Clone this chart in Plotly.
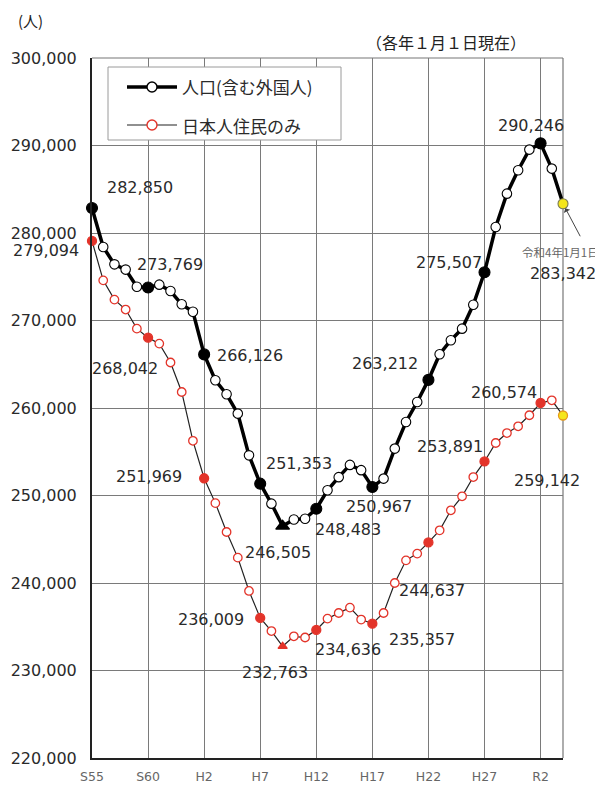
import plotly.graph_objects as go

# ---------------- data ----------------
years = list(range(1980, 2023))
total_pop = [282850, 278400, 276420, 275820, 273850, 273769, 274100, 273370, 271850, 271000,
             266126, 263170, 261570, 259360, 254590, 251353, 249070, 246505, 247250, 247350,
             248483, 250600, 252100, 253500, 252900, 250967, 251930, 255360, 258400, 260690,
             263212, 266140, 267740, 269070, 271800, 275507, 280690, 284500, 287170, 289530,
             290246, 287360, 283342]
japanese_pop = [279094, 274590, 272390, 271250, 269070, 268042, 267360, 265200, 261830, 256250,
                251969, 249130, 245830, 242900, 239090, 236009, 234510, 232763, 233910, 233770,
                234636, 235930, 236570, 237190, 235820, 235357, 236570, 240000, 242590, 243360,
                244637, 246020, 248310, 249910, 252110, 253891, 256000, 257140, 257910, 259170,
                260574, 260880, 259142]
milestone_years = [1980, 1985, 1990, 1995, 2000, 2005, 2010, 2015, 2020]
min_year = 1997
latest_year = 2022
tick_years = [1980, 1985, 1990, 1995, 2000, 2005, 2010, 2015, 2020]
tick_labels = ["S55", "S60", "H2", "H7", "H12", "H17", "H22", "H27", "R2"]
y_ticks = [220000, 230000, 240000, 250000, 260000, 270000, 280000, 290000, 300000]
series_names = ["人口(含む外国人)", "日本人住民のみ"]
latest_note = "令和4年1月1日"
unit_text = "(人)"
date_note = "（各年１月１日現在）"

# ---------------- layout helpers ----------------
OFF = 8                      # default body margin of the page
W, H = 603 - OFF, 785 - OFF
L, R, T, B = 92 - OFF, 40, 58 - OFF, 27
PW, PH = W - L - R, H - T - B


def px(x):                   # page pixel -> paper x
    return (x - OFF - L) / PW


def py(y):                   # page pixel -> paper y
    return 1 - (y - OFF - T) / PH


NUM_FONT = "DejaVu Sans"
JP_FONT = "Noto Sans CJK JP"
RED = "#e3342a"
YELLOW = "#f5e61a"


def styles(kind):
    sym, col, lcol, size = [], [], [], []
    for yr in years:
        if yr == latest_year:
            sym.append("circle"); col.append(YELLOW)
            lcol.append("#7a7a50" if kind == "total" else "#e69a1a"); size.append(10 if kind == "total" else 9)
        elif yr == min_year:
            sym.append("triangle-up")
            col.append("black" if kind == "total" else RED)
            lcol.append("black" if kind == "total" else RED)
            size.append(12 if kind == "total" else 8)
        elif yr in milestone_years:
            sym.append("circle")
            col.append("black" if kind == "total" else RED)
            lcol.append("black" if kind == "total" else RED)
            size.append(11 if kind == "total" else 9)
        else:
            sym.append("circle"); col.append("white")
            lcol.append("black" if kind == "total" else RED)
            size.append(9.5 if kind == "total" else 8.5)
    return sym, col, lcol, size


fig = go.Figure()

s, c, lc, sz = styles("jp")
fig.add_trace(go.Scatter(
    x=years, y=japanese_pop, mode="lines+markers", name=series_names[1],
    line=dict(color="#222222", width=1.2),
    marker=dict(symbol=s, color=c, size=sz, line=dict(color=lc, width=1.3), opacity=1),
    cliponaxis=False, showlegend=False, hoverinfo="x+y"))

s, c, lc, sz = styles("total")
fig.add_trace(go.Scatter(
    x=years, y=total_pop, mode="lines+markers", name=series_names[0],
    line=dict(color="black", width=3.5),
    marker=dict(symbol=s, color=c, size=sz, line=dict(color=lc, width=1.1), opacity=1),
    cliponaxis=False, showlegend=False, hoverinfo="x+y"))

# ---------------- value labels (pixel offsets from their points) ----------------
total_label_offsets = {1980: (48, -21), 1985: (22, -23), 1990: (46, 1), 1995: (39, -20),
                       1997: (-5, 26), 2000: (32, 21), 2005: (7, 19), 2010: (-43, -16),
                       2015: (-36, -10), 2020: (-10, -18), 2022: (0, 70)}
jp_label_offsets = {1980: (-46, 10), 1985: (-23, 31), 1990: (-55, -2), 1995: (-49, 2),
                    1997: (-8, 26), 2000: (32, 20), 2005: (50, 16), 2010: (4, 48),
                    2015: (-35, -15), 2020: (-37, -10), 2022: (-16, 65)}

annotations = []
for offsets, series in ((total_label_offsets, total_pop), (jp_label_offsets, japanese_pop)):
    for yr, (dx, dy) in offsets.items():
        v = series[years.index(yr)]
        annotations.append(dict(x=yr, y=v, xref="x", yref="y", text=f"{v:,}", showarrow=False,
                                xshift=dx, yshift=-dy, xanchor="center", yanchor="middle",
                                font=dict(family=NUM_FONT, size=16, color="#2a2a2a")))

# note for the latest value + arrow
v_last = total_pop[years.index(latest_year)]
annotations.append(dict(x=latest_year, y=v_last, xref="x", yref="y", text=latest_note,
                        showarrow=False, xshift=-3, yshift=-48, xanchor="center", yanchor="middle",
                        font=dict(family=JP_FONT, size=11.5, color="#666666")))
annotations.append(dict(x=latest_year, y=v_last, xref="x", yref="y", text="", showarrow=True,
                        ax=18, ay=34, arrowhead=1, arrowsize=1.2, arrowwidth=1,
                        arrowcolor="#444444", standoff=5))

annotations.append(dict(x=px(30), y=py(21), xref="paper", yref="paper", text=unit_text,
                        showarrow=False, xanchor="center", yanchor="middle",
                        font=dict(family=JP_FONT, size=15, color="#222")))
annotations.append(dict(x=px(446), y=py(42), xref="paper", yref="paper", text=date_note,
                        showarrow=False, xanchor="center", yanchor="middle",
                        font=dict(family=JP_FONT, size=16, color="#222")))

# ---------------- manual legend ----------------
shapes = []
shapes.append(dict(type="rect", xref="paper", yref="paper", x0=px(108), x1=px(341),
                   y0=py(67), y1=py(140), line=dict(color="#9a9a9a", width=1),
                   fillcolor="white", layer="above"))
leg_rows = [(87, "black", 3.5, "white", "black", series_names[0]),
            (125, "#222222", 1.2, "white", RED, series_names[1])]
for yy, lcol, lw, fcol, mcol, name in leg_rows:
    shapes.append(dict(type="line", xref="paper", yref="paper", x0=px(127), x1=px(177),
                       y0=py(yy), y1=py(yy), line=dict(color=lcol, width=lw), layer="above"))
    shapes.append(dict(type="circle", xref="paper", yref="paper", xsizemode="pixel",
                       ysizemode="pixel", xanchor=px(152), yanchor=py(yy), x0=-5, x1=5,
                       y0=-5, y1=5, line=dict(color=mcol, width=1.4), fillcolor=fcol,
                       layer="above"))
    annotations.append(dict(x=px(180), y=py(yy), xref="paper", yref="paper", text=name,
                            showarrow=False, xanchor="left", yanchor="middle",
                            font=dict(family=JP_FONT, size=17, color="#2a2a2a")))

# frame: top and right edges
shapes.append(dict(type="line", xref="paper", yref="paper", x0=0, x1=1, y0=1, y1=1,
                   line=dict(color="#777777", width=1.2), layer="below"))
shapes.append(dict(type="line", xref="paper", yref="paper", x0=1, x1=1, y0=0, y1=1,
                   line=dict(color="#777777", width=1.2), layer="below"))

fig.update_layout(
    template="none",
    width=W, height=H, autosize=False,
    margin=dict(l=L, r=R, t=T, b=B, pad=0),
    paper_bgcolor="white", plot_bgcolor="white",
    showlegend=False,
    annotations=annotations, shapes=shapes,
    xaxis=dict(range=[1980, 2022], tickmode="array", tickvals=tick_years, ticktext=tick_labels,
               showgrid=True, gridcolor="#7a7a7a", gridwidth=1, zeroline=False,
               showline=True, linecolor="#222222", linewidth=2, ticks="", automargin=False,
               ticklabelstandoff=6,
               tickfont=dict(family=NUM_FONT, size=12.5, color="#666666")),
    yaxis=dict(range=[220000, 300000], tickmode="array", tickvals=y_ticks,
               ticktext=[f"{v:,}" for v in y_ticks],
               showgrid=True, gridcolor="#7a7a7a", gridwidth=1, zeroline=False,
               showline=True, linecolor="#222222", linewidth=2, ticks="", automargin=False,
               ticklabelstandoff=10,
               tickfont=dict(family=NUM_FONT, size=16, color="#2a2a2a")),
)

fig.write_html("out.html")
